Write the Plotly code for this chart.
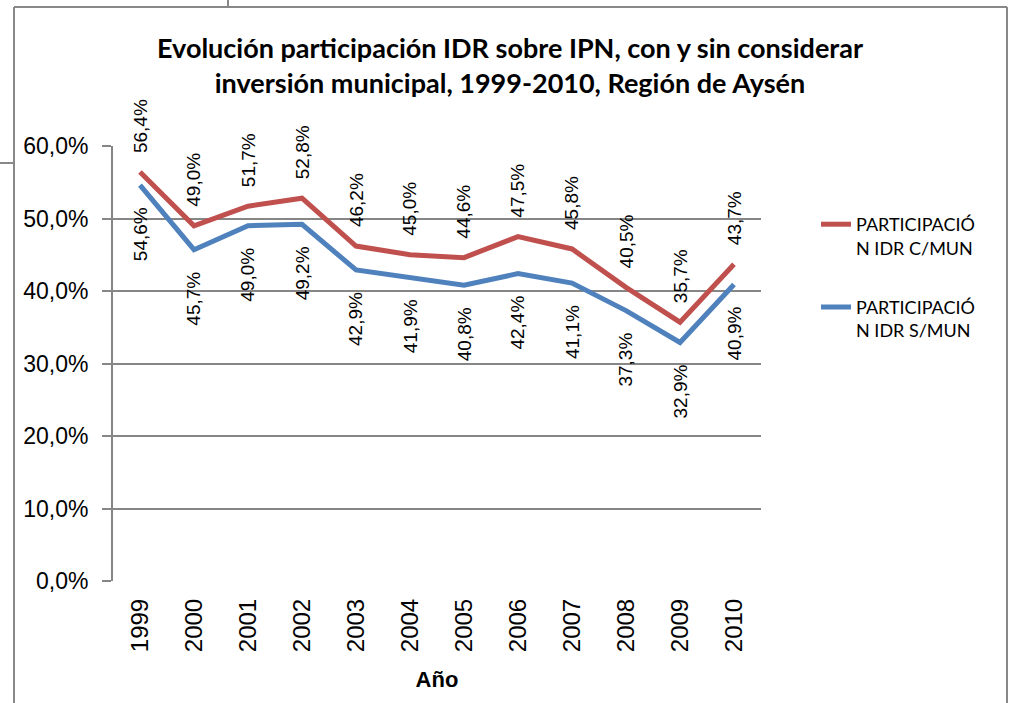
import plotly.graph_objects as go

# Años y participación IDR sobre IPN (fracciones)
years = ["1999", "2000", "2001", "2002", "2003", "2004",
         "2005", "2006", "2007", "2008", "2009", "2010"]
con_mun = [0.564, 0.490, 0.517, 0.528, 0.462, 0.450,
           0.446, 0.475, 0.458, 0.405, 0.357, 0.437]
sin_mun = [0.546, 0.457, 0.490, 0.492, 0.429, 0.419,
           0.408, 0.424, 0.411, 0.373, 0.329, 0.409]

RED = "#C0504D"
BLUE = "#4F81BD"
GRID = "#868686"
LABEL_FONT = dict(family="Liberation Sans, Arial", size=19, color="#000000")

W, H = 1013, 703
ML, MR, MT, MB = 113, 252, 146, 122
pw, ph = W - ML - MR, H - MT - MB


def px_x(x):
    return (x - ML) / pw


def px_y(y):
    return (H - MB - y) / ph


def pct(v):
    return f"{v * 100:.1f}".replace(".", ",") + "%"


fig = go.Figure()
fig.add_trace(go.Scatter(
    x=years, y=con_mun, mode="lines", name="PARTICIPACIÓ<br>N IDR C/MUN",
    line=dict(color=RED, width=5), legendgroup="c", hoverinfo="skip"))
fig.add_trace(go.Scatter(
    x=years, y=sin_mun, mode="lines", name="PARTICIPACIÓ<br>N IDR S/MUN",
    line=dict(color=BLUE, width=5), legendgroup="s", hoverinfo="skip"))

annotations = []
# Etiquetas de datos: C/MUN encima, S/MUN debajo
for i, v in enumerate(con_mun):
    annotations.append(dict(x=i, y=v, xref="x", yref="y", text=pct(v),
                            showarrow=False, textangle=-90, yanchor="bottom",
                            xanchor="center", yshift=17, font=LABEL_FONT))
for i, v in enumerate(sin_mun):
    annotations.append(dict(x=i, y=v, xref="x", yref="y", text=pct(v),
                            showarrow=False, textangle=-90, yanchor="top",
                            xanchor="center", yshift=-20, font=LABEL_FONT))

# Título en dos líneas
annotations.append(dict(
    x=px_x(510), y=px_y(65), xref="paper", yref="paper", showarrow=False,
    text="<b>Evolución participación IDR sobre IPN, con y sin considerar<br>"
         "inversión municipal, 1999-2010, Región de Aysén</b>",
    font=dict(family="Lato, Open Sans", size=27, color="#000000"),
    xanchor="center", yanchor="middle", align="center"))

# Marco del gráfico
frame = dict(color="#888888", width=2)
shapes = [
    dict(type="line", xref="paper", yref="paper",
         x0=px_x(14), x1=px_x(1007), y0=px_y(7), y1=px_y(7), line=frame),
    dict(type="line", xref="paper", yref="paper",
         x0=px_x(14), x1=px_x(14), y0=px_y(7), y1=px_y(710), line=frame),
    dict(type="line", xref="paper", yref="paper",
         x0=px_x(1007), x1=px_x(1007), y0=px_y(7), y1=px_y(710), line=frame),
    dict(type="line", xref="paper", yref="paper",
         x0=px_x(228), x1=px_x(228), y0=px_y(-5), y1=px_y(7), line=frame),
    dict(type="line", xref="paper", yref="paper",
         x0=px_x(-5), x1=px_x(14), y0=px_y(163), y1=px_y(163), line=frame),
]

fig.update_layout(
    width=W, height=H,
    margin=dict(l=ML, r=MR, t=MT, b=MB, autoexpand=False),
    paper_bgcolor="white", plot_bgcolor="white",
    separators=",.",
    annotations=annotations,
    shapes=shapes,
    showlegend=True,
    legend=dict(
        x=px_x(816), y=px_y(206), xanchor="left", yanchor="top",
        font=dict(family="Lato, Open Sans", size=18, color="#000000"),
        tracegroupgap=33, valign="top", bgcolor="rgba(0,0,0,0)",
    ),
    xaxis=dict(
        type="category", showgrid=False, showline=False, zeroline=False,
        ticks="", tickangle=-90, range=[-0.5, 11.5], ticklabelstandoff=12,
        tickfont=dict(family="Liberation Sans, Arial", size=24, color="#000000"),
        title=dict(text="<b>Año</b>", standoff=20,
                   font=dict(family="Liberation Sans, Arial", size=22, color="#000000")),
    ),
    yaxis=dict(
        range=[0, 0.6], tickvals=[0, 0.1, 0.2, 0.3, 0.4, 0.5, 0.6],
        tickformat=".1%", showgrid=True, gridcolor=GRID, gridwidth=1.5,
        showline=True, linecolor=GRID, linewidth=2,
        ticks="outside", ticklen=9, tickcolor=GRID, tickwidth=1.5,
        ticklabelstandoff=9, zeroline=False,
        tickfont=dict(family="Liberation Sans, Arial", size=23, color="#000000"),
    ),
)

fig.write_html("out.html")
